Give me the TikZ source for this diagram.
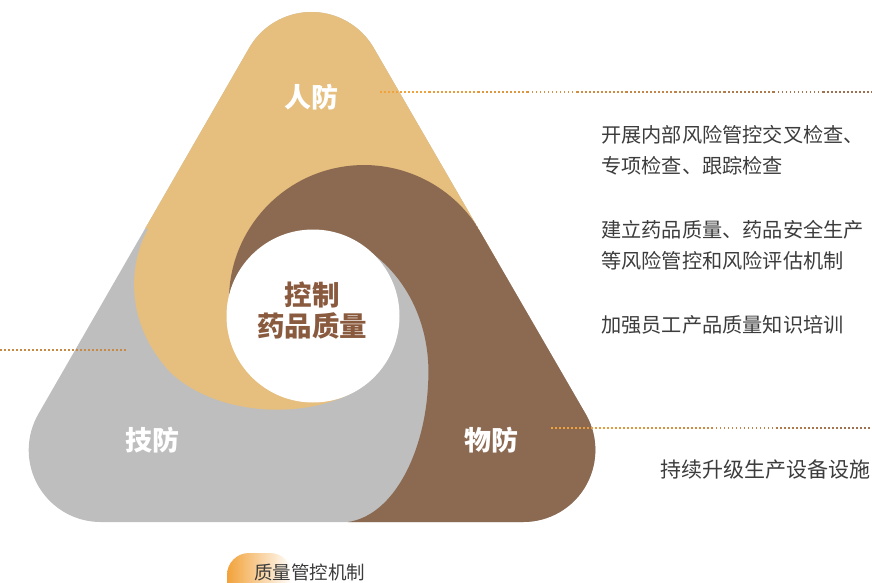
\documentclass[tikz,border=0pt]{standalone}
\usepackage{fontspec}
\setmainfont{Noto Sans CJK SC}
\usetikzlibrary{calc}

\definecolor{tanfill}{HTML}{E6BE7D}
\definecolor{brownfill}{HTML}{8C6A52}
\definecolor{greyfill}{HTML}{BEBEBE}
\definecolor{coretext}{HTML}{8A5A3E}
\definecolor{bodytext}{HTML}{3C3C3C}
\definecolor{dotorange}{HTML}{F2A23A}
\definecolor{dotbrown}{HTML}{946A52}

\tikzset{
  petal label/.style={text=white, font=\bfseries\fontsize{27}{27}\selectfont},
  note/.style={anchor=west, align=left, text=bodytext, inner sep=0pt,
    font=\fontsize{20.2}{31}\selectfont},
  leader/.style={line width=1.8pt, dash pattern=on 1.8pt off 2.2pt},
}

\begin{document}
\begin{tikzpicture}[x=1pt, y=-1pt]
\useasboundingbox (0,0) rectangle (872,583);

% Petals, clipped to the rounded triangle
\begin{scope}
  \clip (249.1,48) arc[start angle=210, end angle=330, radius=72]
    -- (585.7,414) arc[start angle=-30, end angle=90, radius=72]
    -- (100.7,522) arc[start angle=90, end angle=210, radius=72] -- cycle;
  \fill[greyfill] (-10,-10) rectangle (700,620);
  \fill[tanfill] (148.5,228.5) .. controls (130,260) and (122,320) .. (170,372)
    .. controls (215,415) and (300,420) .. (352,393)
    -- (372,340) -- (360,245) -- (370,200) -- (480,262) -- (540,262)
    -- (700,-100) -- (-50,-100) -- (-50,228.5) -- cycle;
  \fill[brownfill] (229.5,311.8) arc[start angle=175, end angle=330, radius=135]
    -- (700,232.5) -- (700,620) -- (348,620) -- (348,522)
    .. controls (395,515) and (425,450) .. (428,385)
    .. controls (432,330) and (410,275) .. (360,245) -- cycle;
\end{scope}
\fill[white] (313,316) circle[radius=86.5];

% Labels
\node[petal label] (ren) at (311,97) {人防};
\node[petal label] (ji) at (152,440) {技防};
\node[petal label] (wu) at (491,440) {物防};
\node[align=center, text=coretext, font=\bfseries\fontsize{27.5}{31}\selectfont] (core) at (312,311) {控制\\药品质量};

% Notes
\node[note] (renNoteA) at (601,150) {开展内部风险管控交叉检查、\\专项检查、跟踪检查};
\node[note] (renNoteB) at (601,245) {建立药品质量、药品安全生产\\等风险管控和风险评估机制};
\node[note] (jiNote) at (601,325) {加强员工产品质量知识培训};
\node[note, font=\fontsize{21}{21}\selectfont] (wuNote) at (660,470) {持续升级生产设备设施};

% Leaders
\coordinate (renTip) at (380,92);
\coordinate (renEdge) at (872,92);
\coordinate (wuTip) at (551,428);
\coordinate (wuEdge) at (872,428);
\coordinate (jiEdge) at (0,350);
\coordinate (jiTip) at (127,350);
\foreach \a/\b in {renTip/renEdge, wuTip/wuEdge}{
  \foreach \k in {0,...,9}{
    \pgfmathtruncatemacro\mix{100-\k*10}
    \draw[leader, dotorange!\mix!dotbrown] ($(\a)!\k/10!(\b)$) -- ($(\a)!{(\k+1)/10}!(\b)$);
  }
}
\draw[leader, dotorange!55!dotbrown] (jiEdge) -- (jiTip);

% Caption
\shade[left color=dotorange, right color=white, rounded corners=22] (227,553) rectangle (292,615);
\node[anchor=west, text=bodytext, inner sep=0pt, font=\fontsize{18.5}{18.5}\selectfont] (mech) at (254,572) {质量管控机制};
\end{tikzpicture}
\end{document}
